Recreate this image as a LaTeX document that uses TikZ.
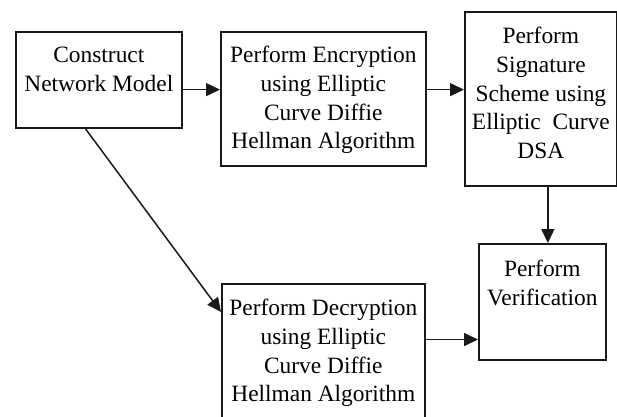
\documentclass[tikz,border=0pt]{standalone}
\usepackage{fontspec}
\setmainfont{Liberation Serif}
\usetikzlibrary{arrows.meta, calc, positioning}

\begin{document}
\begin{tikzpicture}[x=1pt, y=-1pt,
                    box/.style={draw=black!90, line width=1.7pt, anchor=north west, align=center,
                                inner sep=0pt, font=\fontsize{23.4}{28.7}\selectfont},
                    flow/.style={draw=black!90, line width=1.5pt, -{Triangle[length=14pt, width=13pt]}}]
                    \clip
                    (0, 0) rectangle (617, 416);

                    \node[box, minimum width=166pt, text height=59.7pt, text depth=36.3pt] (model) at (15, 31) {Construct\\Network Model};
                    \node[box, minimum width=205pt, text height=117.1pt, text depth=16.9pt] (enc) at (220, 31) {Perform Encryption\\using Elliptic\\Curve Diffie\\Hellman Algorithm};
                    \node[box, minimum width=152pt, text height=146.8pt, text depth=27.2pt] (sig) at (464, 11) {Perform\\Signature\\Scheme using\\Elliptic\ \ Curve\\DSA};
                    \node[box, minimum width=127pt, text height=61.7pt, text depth=54.3pt] (ver) at (478, 243) {Perform\\Verification};
                    \node[box, minimum width=203pt, text height=118.1pt, text depth=20pt] (dec) at (221, 283) {Perform Decryption\\using Elliptic\\Curve Diffie\\Hellman Algorithm};

                    \coordinate (top) at ($(model.north east)!0.6!(model.south east)$);
                    \coordinate (low) at ($(ver.north west)!0.82!(ver.south west)$);

                    \draw[flow]
                    (top) -- (top -| enc.west);
                    \draw[flow]
                    (top -| enc.east) -- (top -| sig.west);
                    \draw[flow]
                    ([xshift=7pt]sig.south) -- ([xshift=7pt]sig.south |- ver.north);
                    \draw[flow]
                    (low -| dec.east) -- (low);
                    \draw[flow]
                    ($(model.south west)!0.42!(model.south east)$) -- ([yshift=-29pt]dec.north west);
                \end{tikzpicture}
\end{document}
